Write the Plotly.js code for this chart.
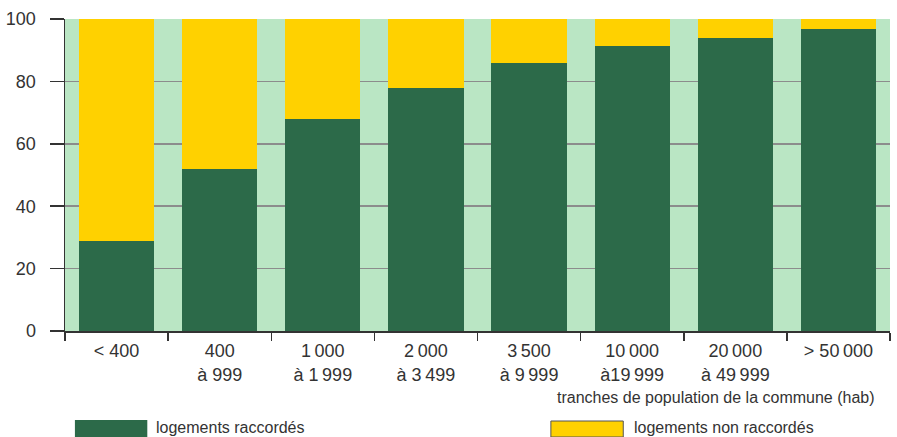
<!DOCTYPE html>
<html>
<head>
<meta charset="utf-8">
<script src="https://cdn.plot.ly/plotly-3.0.1.min.js"></script>
<style>html,body{margin:0;padding:0;background:#fff;}#chart{width:897px;height:437px;}</style>
</head>
<body>
<div id="chart"></div>
<script>
const categories = ["< 400", "400<br>à 999", "1\u2009000<br>à 1\u2009999", "2\u2009000<br>à 3\u2009499", "3\u2009500<br>à 9\u2009999", "10\u2009000<br>à19\u2009999", "20\u2009000<br>à 49\u2009999", "> 50\u2009000"];
const raccordes = [29, 52, 68, 78, 86, 91.3, 94, 96.8];
const nonRaccordes = [71, 48, 32.7, 22, 14, 9, 6, 3.2];
const yTicks = [0, 20, 40, 60, 80, 100];
const seriesNames = ["logements raccordés", "logements non raccordés"];
const xTitle = "tranches de population de la commune (hab)";

const FONT = "'Liberation Sans', Arial, sans-serif";
const GREEN = "#2c6a49";
const YELLOW = "#ffd100";
const TXT = "#333333";

const traces = [
  {type: "bar", x: categories, y: raccordes, name: seriesNames[0], marker: {color: GREEN, line: {width: 0}}, cliponaxis: false, hoverinfo: "none"},
  {type: "bar", x: categories, y: nonRaccordes, name: seriesNames[1], marker: {color: YELLOW, line: {width: 0}}, cliponaxis: false, hoverinfo: "none"}
];

const layout = {
  width: 897, height: 437,
  margin: {l: 65, r: 7, t: 19, b: 106},
  barmode: "stack",
  bargap: 0.27,
  showlegend: false,
  paper_bgcolor: "#ffffff",
  plot_bgcolor: "#bae6c4",
  font: {family: FONT, size: 16, color: TXT},
  xaxis: {
    type: "category",
    tickson: "boundaries",
    ticks: "outside", ticklen: 8, tickwidth: 1.5, tickcolor: TXT,
    showline: true, linecolor: TXT, linewidth: 1.5,
    showgrid: false,
    ticklabelstandoff: 3,
    tickfont: {family: FONT, size: 18, color: TXT},
    fixedrange: true
  },
  yaxis: {
    range: [0, 100],
    tickvals: yTicks,
    ticks: "outside", ticklen: 14, tickwidth: 1.5, tickcolor: TXT,
    showline: true, linecolor: TXT, linewidth: 1.5,
    showgrid: true, gridcolor: "#8c8c8c", gridwidth: 1.5,
    zeroline: false,
    ticklabelstandoff: 10,
    tickfont: {family: FONT, size: 18, color: TXT},
    fixedrange: true
  },
  shapes: [
    {type: "rect", xref: "paper", yref: "paper", x0: 10/832, x1: 83/832, y0: -106/312, y1: -89/312, fillcolor: GREEN, line: {width: 0}},
    {type: "rect", xref: "paper", yref: "paper", x0: 490/832, x1: 563/832, y0: -106/312, y1: -90/312, fillcolor: YELLOW, line: {width: 1, color: "#555555"}}
  ],
  annotations: [
    {xref: "paper", yref: "paper", x: 819/832, y: -67/312, xanchor: "right", yanchor: "middle", text: xTitle, showarrow: false, font: {family: FONT, size: 16, color: TXT}},
    {xref: "paper", yref: "paper", x: 90/832, y: -96/312, xanchor: "left", yanchor: "middle", text: seriesNames[0], showarrow: false, font: {family: FONT, size: 16, color: TXT}},
    {xref: "paper", yref: "paper", x: 572/832, y: -96/312, xanchor: "left", yanchor: "middle", text: seriesNames[1], showarrow: false, font: {family: FONT, size: 16, color: TXT}}
  ]
};

Plotly.newPlot("chart", traces, layout, {staticPlot: true, displayModeBar: false});
</script>
</body>
</html>
